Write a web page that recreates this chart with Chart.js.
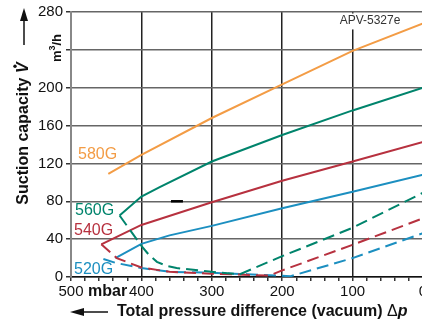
<!DOCTYPE html>
<html>
<head>
<meta charset="utf-8">
<script src="https://cdn.jsdelivr.net/npm/chart.js@4/dist/chart.umd.min.js"></script>
<style>
  html, body { margin: 0; padding: 0; background: #fff; overflow: hidden; }
  #wrap { width: 422px; height: 325px; overflow: hidden; }
</style>
</head>
<body>
<div id="wrap"><canvas id="pumpChart" width="440" height="325"></canvas></div>
<script>
// pressure difference in mbar, suction capacity in m3/h
const p580 = [447, 400, 300, 200, 100, 0];
const q580 = [109, 129, 168, 203.5, 239, 268];

const p560 = [431, 400, 374, 300, 200, 100, 0];
const q560 = [65, 85, 95, 122, 150, 176, 200];
const p560Dash = [431, 400, 390, 378, 365, 350, 300, 260, 200, 100, 0];
const q560Dash = [65, 33, 24, 16, 12, 9.5, 5.5, 3, 22, 52, 89];

const p540 = [457, 400, 300, 200, 100, 0];
const q540 = [34.5, 55, 79, 101.7, 122, 142.7];
const p540Dash = [457, 435, 400, 360, 300, 218, 200, 100, 0];
const q540Dash = [34.5, 20, 10, 5.5, 3.5, 1.5, 7, 34, 62];

const p520 = [437, 400, 360, 300, 200, 100, 0];
const q520 = [20, 35, 44, 54, 72.6, 90, 108];
const p520Dash = [454, 437, 400, 360, 300, 250, 188, 100, 0];
const q520Dash = [19, 15, 9.5, 5.5, 4.5, 3, 0.8, 20, 46.3];

const xTicks = [500, 400, 300, 200, 100, 0];
const yTicks = [0, 40, 80, 120, 160, 200, 280];

const colors = {
    '580G': '#F39C45',
    '560G': '#00846C',
    '540G': '#B7313F',
    '520G': '#1C8FC0'
};

function toPoints(xs, ys) {
    return xs.map((x, i) => ({ x: x, y: ys[i] }));
}

function series(label, xs, ys, dashed) {
    return {
        label: label,
        data: toPoints(xs, ys),
        borderColor: colors[label],
        borderWidth: 2,
        borderDash: dashed ? [12, 6] : [],
        pointRadius: 0,
        tension: 0,
        fill: false
    };
}

const FONT = '"Liberation Sans", Arial, sans-serif';

// titles, curve names, arrows and the drawing number
const annotations = {
    id: 'annotations',
    beforeDatasetsDraw(chart) {
        const ctx = chart.ctx;
        const x = chart.scales.x, y = chart.scales.y;
        ctx.save();
        // short heavy mark on the 80 line
        ctx.strokeStyle = '#000';
        ctx.lineWidth = 2.5;
        ctx.beginPath();
        ctx.moveTo(x.getPixelForValue(358), y.getPixelForValue(80));
        ctx.lineTo(x.getPixelForValue(341), y.getPixelForValue(80));
        ctx.stroke();
        ctx.restore();
    },
    afterDraw(chart) {
        const ctx = chart.ctx;
        const y = chart.scales.y;
        ctx.save();
        ctx.textBaseline = 'middle';

        // drawing number on a white box that hides the grid line behind it
        const boxTop = y.getPixelForValue(280) + 1.5;
        const boxBottom = y.getPixelForValue(260) - 1.5;
        ctx.fillStyle = '#fff';
        ctx.fillRect(336, boxTop, 66, boxBottom - boxTop);
        ctx.fillStyle = '#333';
        ctx.font = '12px ' + FONT;
        ctx.textAlign = 'center';
        ctx.fillText('APV-5327e', 370, 20.5);

        // curve names
        ctx.font = '16px ' + FONT;
        ctx.textAlign = 'left';
        [['580G', 78, 155], ['560G', 75, 211], ['540G', 74, 231], ['520G', 74, 270]].forEach(([name, lx, ly]) => {
            ctx.fillStyle = colors[name];
            ctx.fillText(name, lx, ly);
        });

        ctx.fillStyle = '#111';
        ctx.strokeStyle = '#111';

        // unit after the 500 tick
        ctx.font = 'bold 16px ' + FONT;
        ctx.fillText('mbar', 88, 292);

        // x axis title with arrow
        let tx = 117;
        const ty = 312;
        ctx.font = 'bold 16px ' + FONT;
        const part1 = 'Total pressure difference (vacuum) ';
        ctx.fillText(part1, tx, ty);
        tx += ctx.measureText(part1).width;
        ctx.font = '16px ' + FONT;
        ctx.fillText('\u0394', tx, ty);
        tx += ctx.measureText('\u0394').width;
        ctx.font = 'italic bold 16px ' + FONT;
        ctx.fillText('p', tx, ty);

        ctx.lineWidth = 1.5;
        ctx.beginPath();
        ctx.moveTo(108, 312);
        ctx.lineTo(82, 312);
        ctx.stroke();
        ctx.beginPath();
        ctx.moveTo(70, 312);
        ctx.lineTo(84, 308);
        ctx.lineTo(84, 316);
        ctx.closePath();
        ctx.fill();

        // y axis title, rotated
        ctx.save();
        ctx.translate(24, 133.5);
        ctx.rotate(-Math.PI / 2);
        ctx.font = 'bold 16px ' + FONT;
        const t1 = 'Suction capacity ';
        const w1 = ctx.measureText(t1).width;
        ctx.font = 'italic bold 16px ' + FONT;
        const wV = ctx.measureText('V').width;
        let sx = -(w1 + wV) / 2;
        ctx.font = 'bold 16px ' + FONT;
        ctx.fillText(t1, sx, 0);
        sx += w1;
        ctx.font = 'italic bold 16px ' + FONT;
        ctx.fillText('V', sx, 0);
        ctx.beginPath();
        ctx.arc(sx + wV / 2 + 1.5, -9, 1.7, 0, Math.PI * 2);
        ctx.fill();
        ctx.restore();

        ctx.lineWidth = 1.5;
        ctx.beginPath();
        ctx.moveTo(24, 45);
        ctx.lineTo(24, 19);
        ctx.stroke();
        ctx.beginPath();
        ctx.moveTo(24, 8);
        ctx.lineTo(20, 21);
        ctx.lineTo(28, 21);
        ctx.closePath();
        ctx.fill();

        // unit m3/h, rotated
        ctx.save();
        ctx.translate(57, 48);
        ctx.rotate(-Math.PI / 2);
        ctx.font = 'bold 13px ' + FONT;
        const wm = ctx.measureText('m').width;
        ctx.font = 'bold 9px ' + FONT;
        const w3 = ctx.measureText('3').width;
        ctx.font = 'bold 13px ' + FONT;
        const wh = ctx.measureText('/h').width;
        let ux = -(wm + w3 + wh) / 2;
        ctx.textAlign = 'left';
        ctx.fillText('m', ux, 0);
        ux += wm;
        ctx.font = 'bold 9px ' + FONT;
        ctx.fillText('3', ux, -4);
        ux += w3;
        ctx.font = 'bold 13px ' + FONT;
        ctx.fillText('/h', ux, 0);
        ctx.restore();

        ctx.restore();
    }
};

const ctx = document.getElementById('pumpChart').getContext('2d');
new Chart(ctx, {
    type: 'line',
    data: {
        datasets: [
            series('560G', p560Dash, q560Dash, true),
            series('540G', p540Dash, q540Dash, true),
            series('520G', p520Dash, q520Dash, true),
            series('580G', p580, q580, false),
            series('560G', p560, q560, false),
            series('540G', p540, q540, false),
            series('520G', p520, q520, false)
        ]
    },
    options: {
        responsive: false,
        animation: false,
        layout: { padding: { top: 11, right: 17, left: 0, bottom: 0 } },
        plugins: {
            legend: { display: false },
            tooltip: { enabled: false }
        },
        scales: {
            x: {
                type: 'linear',
                reverse: true,
                min: 0,
                max: 500,
                afterFit: scale => { scale.height = 48; },
                ticks: {
                    stepSize: 20,
                    autoSkip: false,
                    maxRotation: 0,
                    padding: 2,
                    color: '#111',
                    font: { family: FONT, size: 15 },
                    callback: v => xTicks.includes(v) ? String(v) : ''
                },
                grid: {
                    color: c => (c.tick && c.tick.value % 100 === 0) ? '#222' : 'rgba(0,0,0,0)',
                    tickColor: '#333',
                    tickLength: 4,
                    lineWidth: 1.5
                },
                border: { color: '#111', width: 1.5 }
            },
            y: {
                min: 0,
                max: 280,
                afterFit: scale => { scale.width = 71; },
                ticks: {
                    stepSize: 20,
                    padding: 3,
                    color: '#111',
                    font: { family: FONT, size: 15 },
                    callback: v => yTicks.includes(v) ? String(v) : ''
                },
                grid: {
                    color: '#666',
                    tickColor: '#333',
                    tickLength: 5,
                    lineWidth: 1.5
                },
                border: { color: '#888', width: 2 }
            }
        }
    },
    plugins: [annotations]
});
</script>
</body>
</html>
